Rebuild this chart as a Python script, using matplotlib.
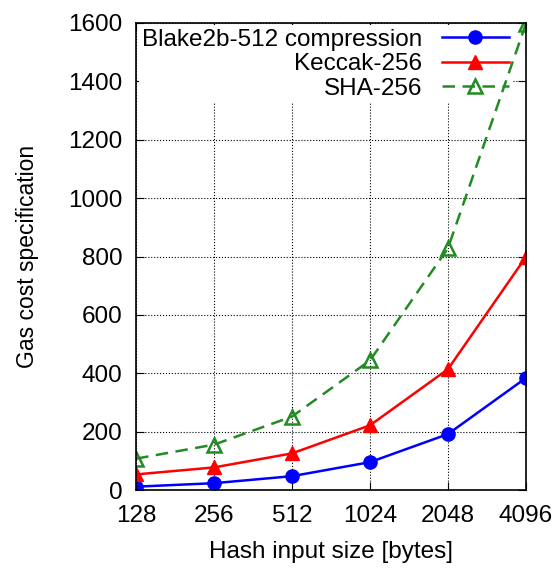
import matplotlib
matplotlib.use("Agg")
import matplotlib.pyplot as plt
import numpy as np

plt.rcParams['font.family'] = ['Liberation Sans', 'DejaVu Sans']

sizes = ["128", "256", "512", "1024", "2048", "4096"]
blake2b = [12, 24, 48, 96, 192, 384]
keccak = [54, 78, 126, 222, 414, 798]
sha256 = [108, 156, 252, 444, 828, 1596]
y_ticks = [0, 200, 400, 600, 800, 1000, 1200, 1400, 1600]

fig = plt.figure(figsize=(5.6, 5.7), dpi=100)
ax = fig.add_axes([0.243, 0.140, 0.696, 0.820])

x = np.arange(len(sizes))
ax.plot(x, blake2b, color='#0000ff', lw=1.8, marker='o', ms=9.5,
        label='Blake2b-512 compression', zorder=3)
ax.plot(x, keccak, color='#ff0000', lw=1.8, marker='^', ms=10,
        label='Keccak-256', zorder=3)
ax.plot(x, sha256, color='#228b22', lw=1.8, ls=(0, (5, 3)), marker='^', ms=10,
        mfc='none', mew=1.8, label='SHA-256', zorder=3)

ax.set_xlim(x[0], x[-1])
ax.set_ylim(0, 1600)
ax.set_xticks(x, sizes)
ax.set_yticks(y_ticks)

# grid drawn by hand so it can sit under the key while ticks stay on top
ax.hlines(y_ticks, x[0], x[-1], colors='black', linestyles=':', lw=0.8,
          zorder=1)
ax.vlines(x, 0, 1600, colors='black', linestyles=':', lw=0.8, zorder=1)

ax.tick_params(direction='in', top=True, right=True, labelsize=17.5, length=6)
ax.tick_params(axis='x', pad=11)
ax.tick_params(axis='y', pad=10)
for s in ax.spines.values():
    s.set_linewidth(1.2)
    s.set_zorder(4)

ax.set_xlabel("Hash input size [bytes]", fontsize=17.5, labelpad=10)
ax.set_ylabel("Gas cost specification", fontsize=16.5, labelpad=21)

leg = ax.legend(loc='upper left', frameon=True, facecolor='white',
                edgecolor='none', framealpha=1, fancybox=False,
                markerfirst=False, fontsize=17.5, handlelength=2.75,
                labelspacing=0.1, borderaxespad=0.1, borderpad=0.15,
                handletextpad=0.8)
leg.set_zorder(2)
for t in leg.get_texts():
    t.set_ha('right')
leg._legend_box.align = 'right'

fig.savefig("out.png", dpi=100)
